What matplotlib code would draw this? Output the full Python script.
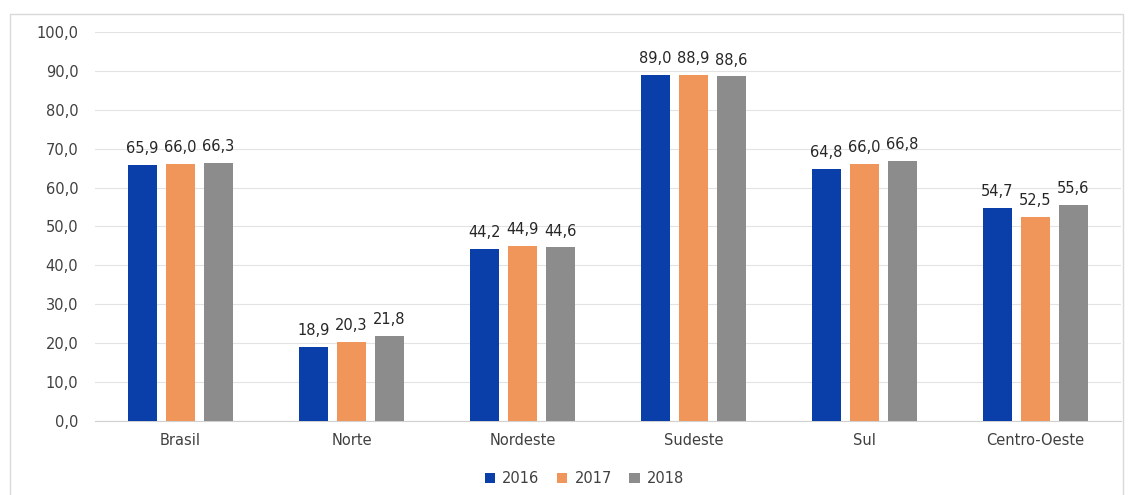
import numpy as np
import matplotlib.pyplot as plt
from matplotlib.patches import Rectangle

plt.rcParams["font.family"] = ["DejaVu Sans"]

# data
regions = ["Brasil", "Norte", "Nordeste", "Sudeste", "Sul", "Centro-Oeste"]
years = ["2016", "2017", "2018"]
v2016 = [65.9, 18.9, 44.2, 89.0, 64.8, 54.7]
v2017 = [66.0, 20.3, 44.9, 88.9, 66.0, 52.5]
v2018 = [66.3, 21.8, 44.6, 88.6, 66.8, 55.6]
colors = ["#0A3FAA", "#F0965A", "#8C8C8C"]

fig = plt.figure(figsize=(11.33, 4.95), dpi=100)
ax = fig.add_axes([0.0838, 0.15, 0.9056, 0.785])

# light frame around the chart
fig.patches.append(Rectangle((0.009, -0.01), 0.982, 0.982, transform=fig.transFigure,
                             fill=False, edgecolor="#D9D9D9", linewidth=1))

x = np.arange(len(regions))
w = 0.172
step = 0.222
for i, (vals, yr) in enumerate(zip([v2016, v2017, v2018], years)):
    pos = x + (i - 1) * step
    ax.bar(pos, vals, width=w, color=colors[i], label=yr, zorder=3)
    for p, v in zip(pos, vals):
        ax.text(p, v + 2.3, f"{v:.1f}".replace(".", ","), ha="center", va="bottom",
                fontsize=10.5, color="#262626")

ax.set_xlim(-0.5, len(regions) - 0.5)
ax.set_ylim(0, 100)
ax.set_yticks(np.arange(0, 101, 10))
ax.set_yticklabels([f"{t:.1f}".replace(".", ",") for t in np.arange(0, 101, 10)])
ax.set_xticks(x)
ax.set_xticklabels(regions)
ax.tick_params(axis="both", length=0, labelsize=10.5, colors="#404040")
ax.tick_params(axis="x", pad=9)
ax.tick_params(axis="y", pad=12)
ax.grid(axis="y", color="#E3E3E3", linewidth=0.8, zorder=0)
for s in ["top", "right", "left"]:
    ax.spines[s].set_visible(False)
ax.spines["bottom"].set_color("#D0D0D0")

ax.legend(loc="upper center", bbox_to_anchor=(0.477, -0.095), ncol=3, frameon=False,
          fontsize=10.5, handlelength=0.7, handleheight=0.7, handletextpad=0.5,
          columnspacing=1.2, labelcolor="#404040")

plt.savefig("out.png", dpi=100)
